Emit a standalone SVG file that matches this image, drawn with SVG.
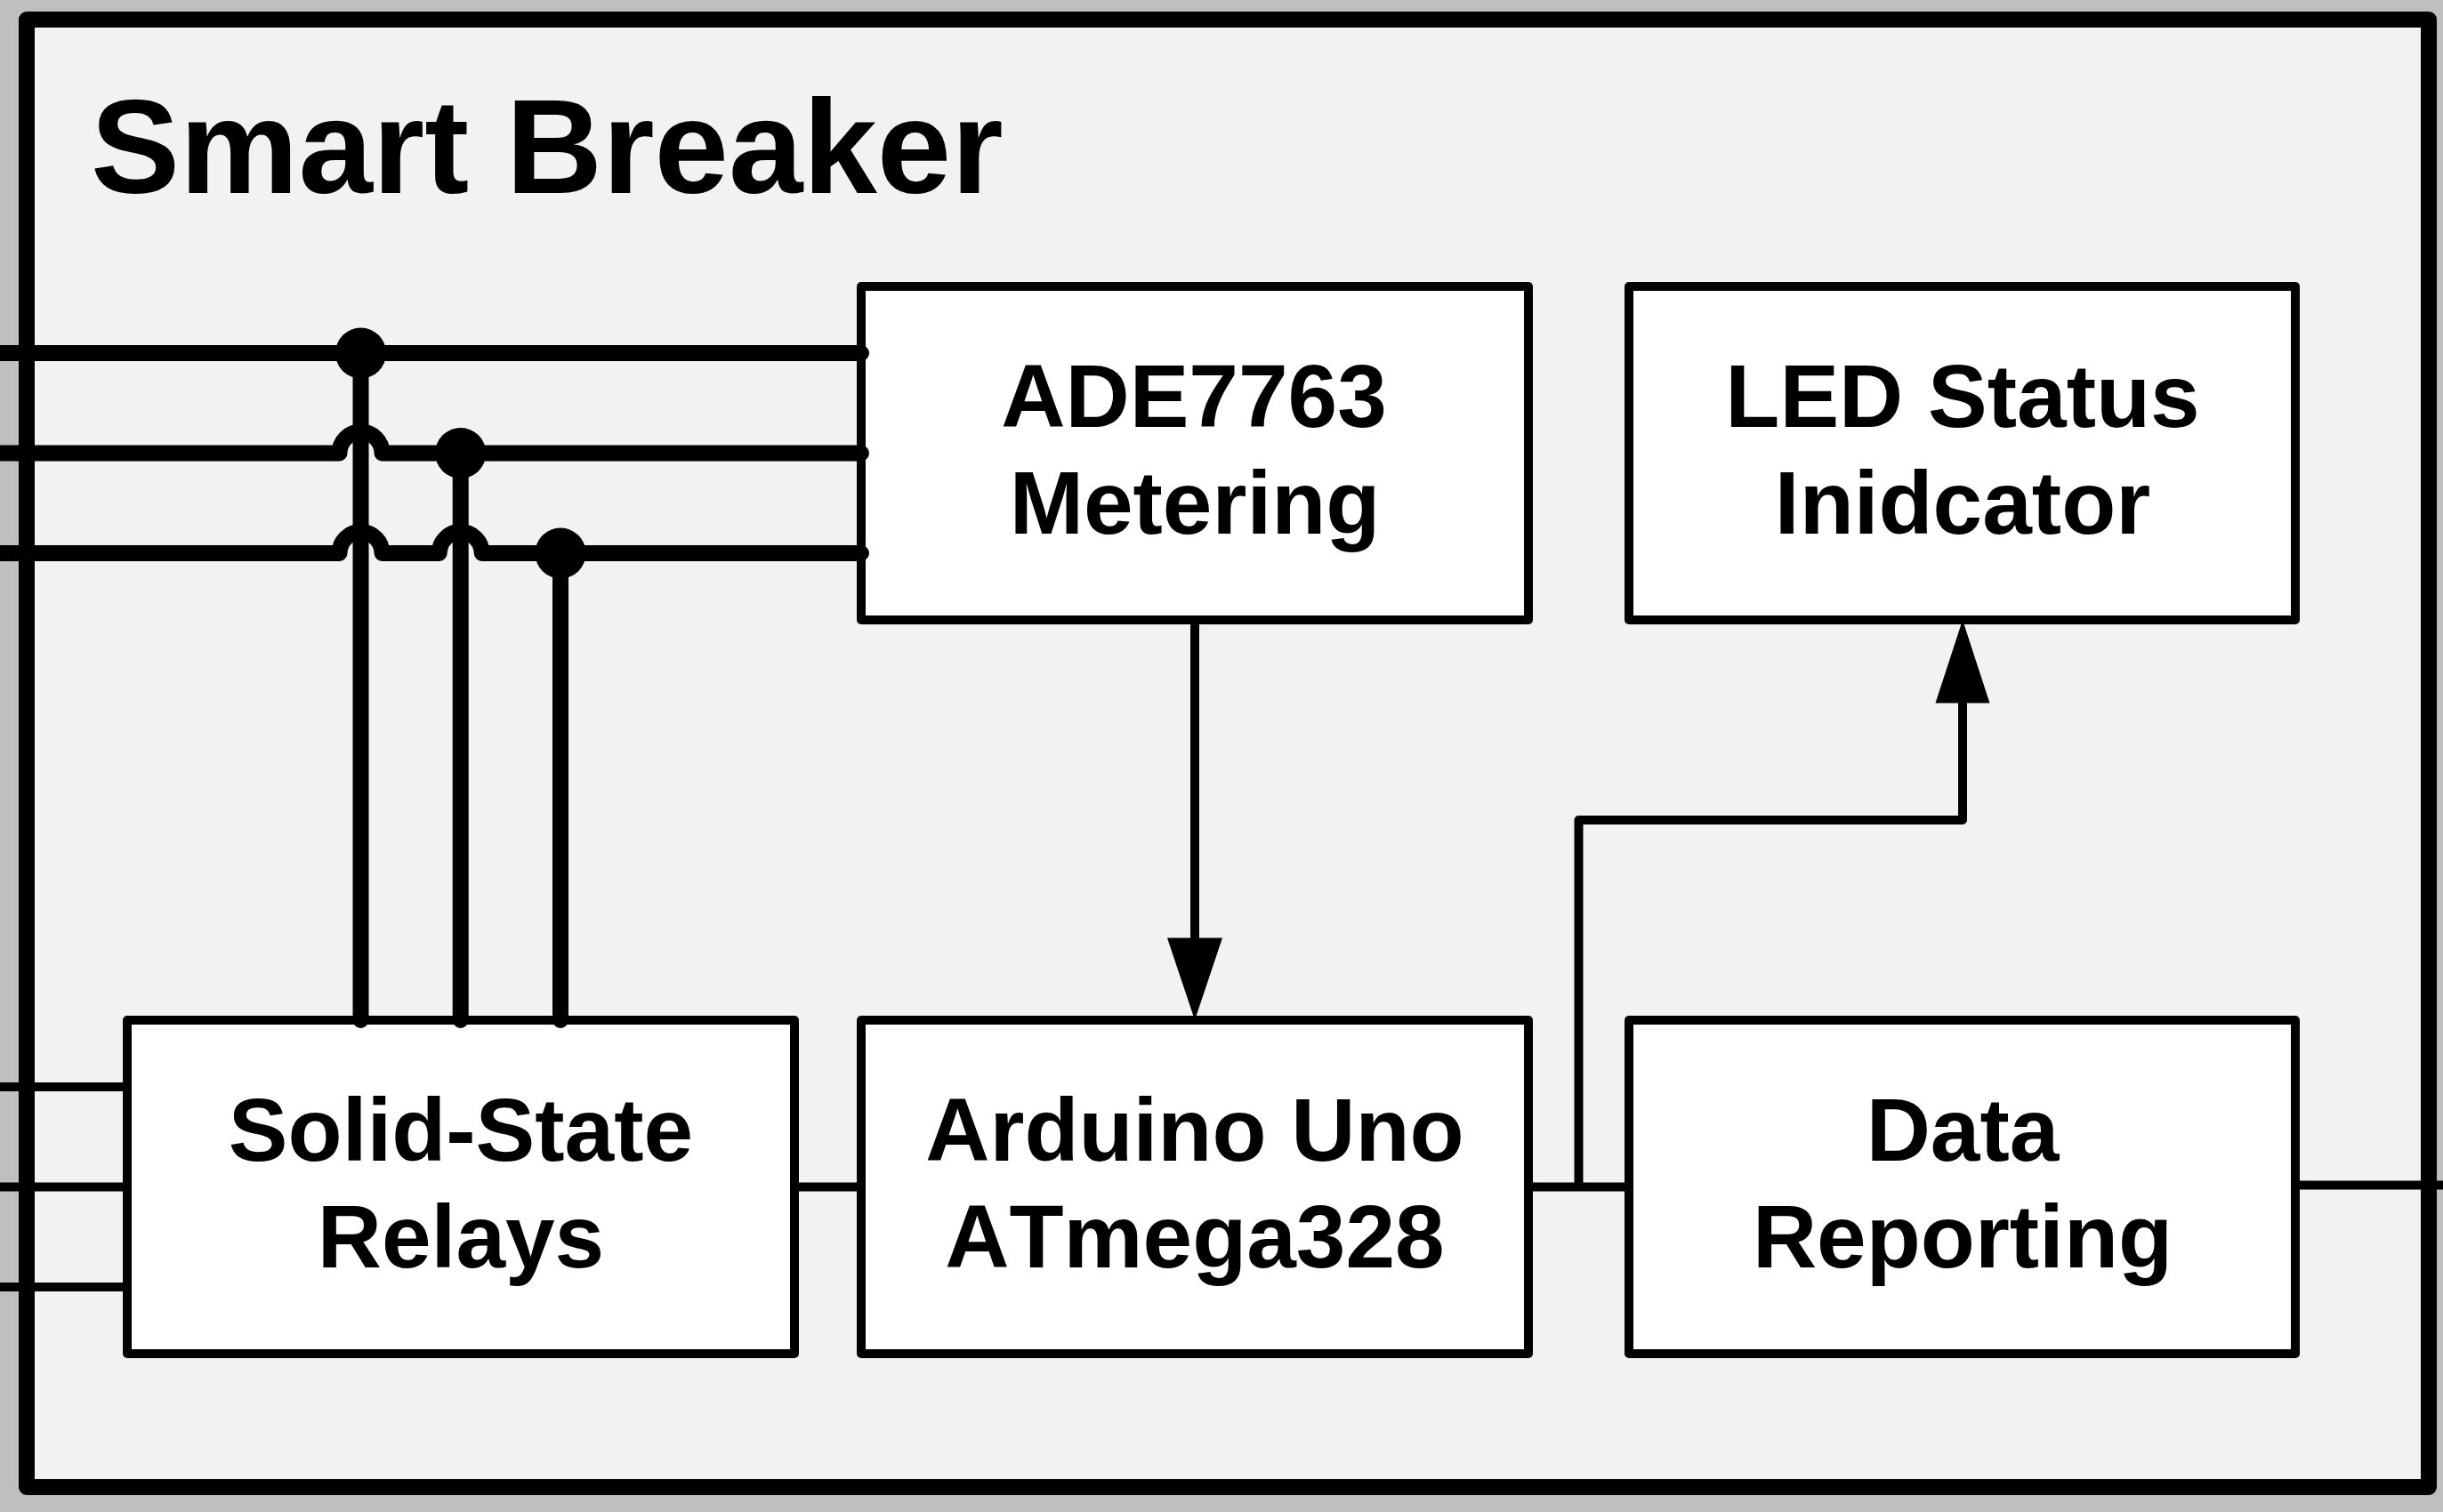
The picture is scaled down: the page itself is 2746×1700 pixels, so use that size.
<svg xmlns="http://www.w3.org/2000/svg" width="2746" height="1700" viewBox="0 0 2746 1700">
<defs>
<style>
.frame{fill:#f2f2f2;stroke:#000;stroke-width:18;stroke-linejoin:round}
.box{fill:#fff;stroke:#000;stroke-width:10;stroke-linejoin:round}
.bus{fill:none;stroke:#000;stroke-width:18;stroke-linecap:round;stroke-linejoin:round}
.thin{fill:none;stroke:#000;stroke-width:10;stroke-linejoin:round}
.dot{fill:#000}
.head{fill:#000}
text{font-family:"Liberation Sans",Arial,sans-serif;font-weight:700;fill:#000;font-kerning:none}
.label{font-size:100px;text-anchor:middle}
.title{font-size:150px}
</style>
</defs>
<rect x="0" y="0" width="2746" height="1700" fill="#bfbfbf"/>
<g id="frame"><rect class="frame" x="30" y="22" width="2700" height="1650"/>
<text class="title" x="102" y="217">Smart Breaker</text></g>
<g id="connectors">
<path class="thin" d="M0 1222H143M0 1334.500H143M0 1447H143M893 1334.500H968M1718 1334.500H1831M2580 1332.500H2746"/>
<path class="thin" d="M1774.500 1334.500V922H2206V780"/>
<path class="thin" d="M1343 697V1066"/>
<polygon class="head" points="2206,697 2175.500,790.500 2236.500,790.500"/>
<polygon class="head" points="1343,1147 1312,1054.500 1374,1054.500"/>
</g>
<g id="relays"><rect class="box" x="143" y="1147" width="750" height="375"/><text class="label" x="518" y="1305">Solid-State</text><text class="label" x="518" y="1425">Relays</text></g>
<g id="arduino"><rect class="box" x="968" y="1147" width="750" height="375"/><text class="label" x="1343" y="1305">Arduino Uno</text><text class="label" x="1343" y="1425">ATmega328</text></g>
<g id="reporting"><rect class="box" x="1831" y="1147" width="749" height="375"/><text class="label" x="2206" y="1305">Data</text><text class="label" x="2206" y="1425">Reporting</text></g>
<g id="metering"><rect class="box" x="968" y="322" width="750" height="375"/><text class="label" x="1342" y="480">ADE7763</text><text class="label" x="1343" y="600">Metering</text></g>
<g id="led"><rect class="box" x="1831" y="322" width="749" height="375"/><text class="label" x="2206" y="480">LED Status</text><text class="label" x="2206" y="600">Inidcator</text></g>
<g id="buses">
<path class="bus" d="M-20 397H968"/>
<path class="bus" d="M-20 509.500H381.500A24 24 0 0 1 429.500 509.500H968"/>
<path class="bus" d="M-20 622H381.500A24 24 0 0 1 429.500 622H493.700A24 24 0 0 1 541.700 622H968"/>
<path class="bus" d="M405.500 397V1147M517.700 510V1147M630 622V1147"/>
<circle class="dot" cx="405.500" cy="397" r="28.500"/>
<circle class="dot" cx="517.700" cy="509.500" r="28.500"/>
<circle class="dot" cx="630" cy="622" r="28.500"/>
</g>
</svg>
